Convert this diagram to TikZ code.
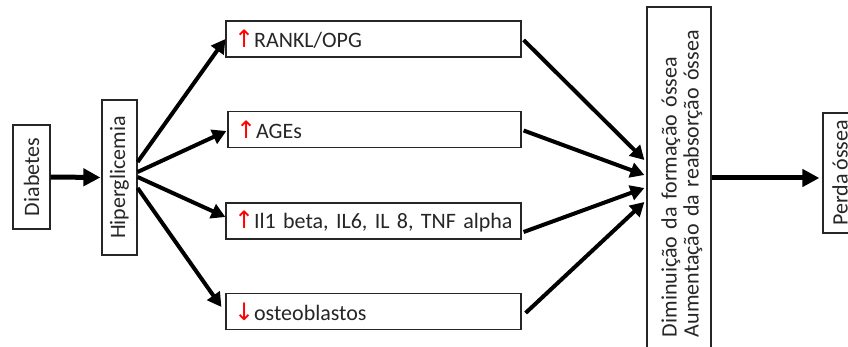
\documentclass[tikz,border=0pt]{standalone}
\usepackage{fontspec}
\setmainfont[WordSpace=0.8]{Carlito}
\newfontfamily\arrowfont{DejaVu Sans}
\usetikzlibrary{arrows.meta,calc}
\begin{document}
\begin{tikzpicture}[x=1pt,y=-1pt,
  box/.style={draw=black!85, line width=1.2pt, inner sep=0pt, fill=white,
    font=\fontsize{22}{22}\selectfont, text=black!85},
  vbox/.style={box, rotate=90},
  hbox/.style={box, minimum width=295pt, minimum height=36pt, text width=279pt, align=left},
  conn/.style={line width=4pt, -{Triangle[length=14pt,width=15pt]}},
  bigconn/.style={line width=5pt, -{Triangle[length=17pt,width=17pt]}},
]
\useasboundingbox (0,0) rectangle (848,347);
\newcommand{\uparr}{\textcolor{red}{\arrowfont\fontsize{24}{24}\selectfont ↑}\hspace{0pt}}
\newcommand{\downarr}{\textcolor{red}{\arrowfont\fontsize{24}{24}\selectfont ↓}\hspace{0pt}}

\node[vbox, minimum width=104pt, minimum height=37pt] (dia) at (31.5,177) {Diabetes};
\node[vbox, minimum width=155pt, minimum height=35pt] (hip) at (119.5,177.5) {Hiperglicemia};

\node[hbox] (rank) at (373.5,39) {\uparr RANKL/OPG};
\node[hbox, minimum width=293pt, text width=277pt] (ages) at (374.5,129.5) {\uparr AGEs};
\node[hbox] (il) at (373.5,221) {\uparr Il1 beta, IL6, IL 8, TNF alpha};
\node[hbox] (ost) at (373.5,311.5) {\downarr osteoblastos};

\node[vbox, minimum width=348pt, minimum height=64pt, text width=312pt, align=left] (dim) at (679,181)
  {\rule{0pt}{21pt}Diminuição da formação óssea\\Aumentação da reabsorção óssea};
\node[vbox, minimum width=120pt, minimum height=34pt] (perda) at (840,173) {Perda óssea};

\draw[bigconn] (dia.south) -- ($(hip.north)+(-1,0)$);

\draw[conn] ($(hip.south)+(0,-15.5)$) -- (rank.west);
\draw[conn] ($(hip.south)+(0,-5.5)$) -- ($(ages.west)+(-1,1.5)$);
\draw[conn] ($(hip.south)+(0,-0.5)$) -- ($(il.west)+(0,-4)$);
\draw[conn] ($(hip.south)+(0,10.5)$) -- ($(ost.west)+(-4,-4.5)$);

\draw[conn] ($(rank.east)+(2,1)$) -- ($(dim.north)+(-2,-21)$);
\draw[conn] ($(ages.east)+(2,1)$) -- ($(dim.north)+(-2,-6)$);
\draw[conn] ($(il.east)+(2,11)$) -- ($(dim.north)+(-2,7)$);
\draw[conn] ($(ost.east)+(4,1.5)$) -- ($(dim.north)+(-2,21)$);

\draw[bigconn] ($(dim.south)+(0,-3)$) -- ($(perda.north)+(-3,5)$);
\end{tikzpicture}
\end{document}
